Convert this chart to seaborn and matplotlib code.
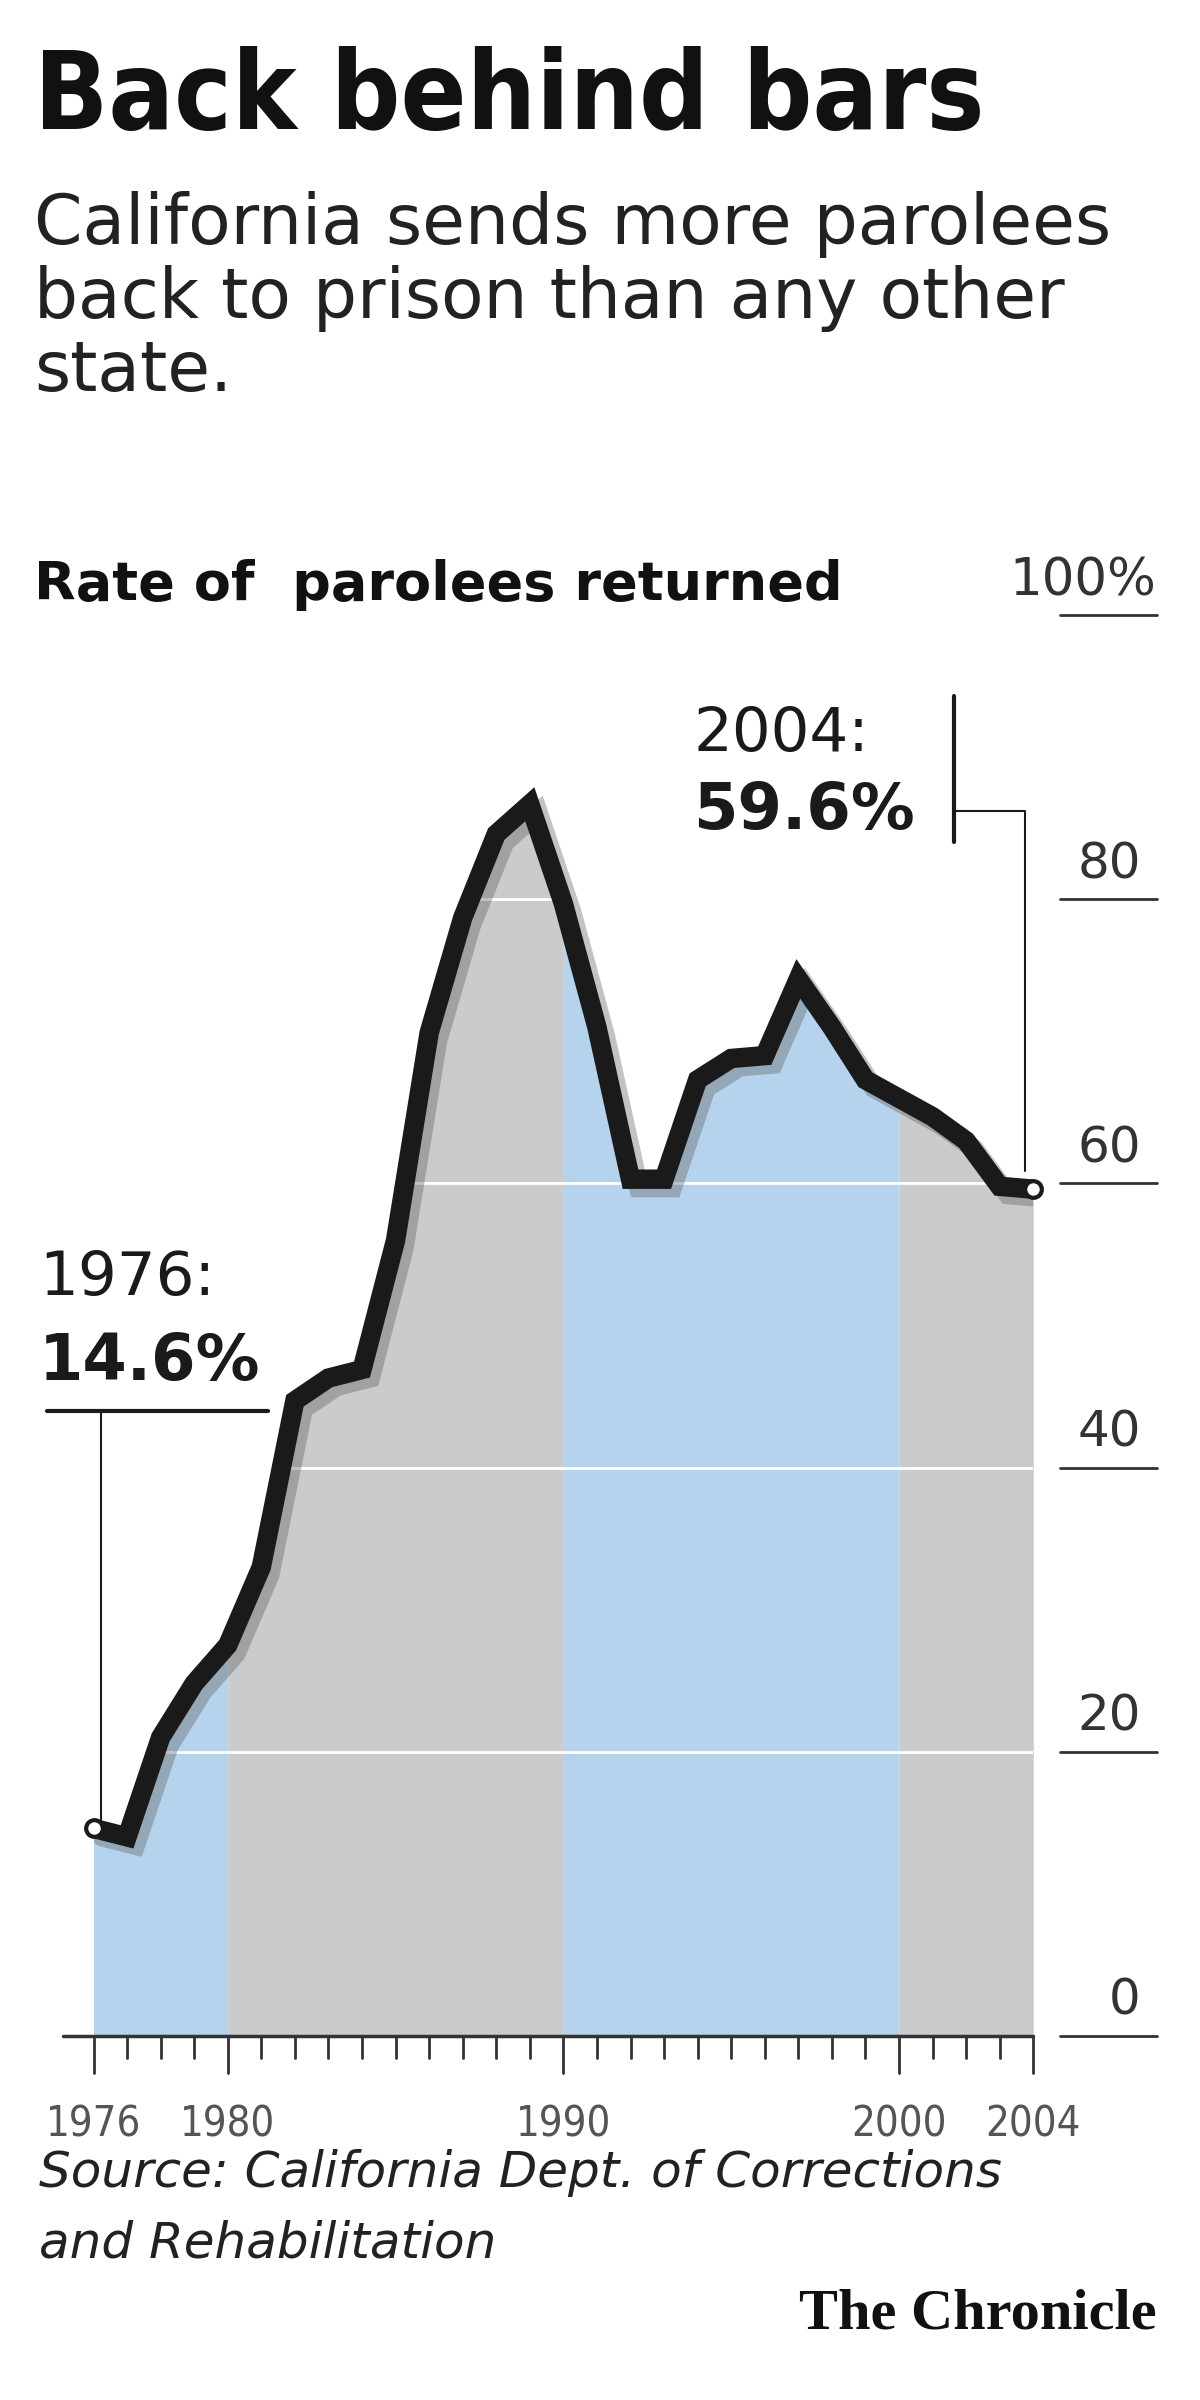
import matplotlib
matplotlib.use('Agg')
import numpy as np
import pandas as pd
import matplotlib.pyplot as plt
import matplotlib.patheffects as pe
import seaborn as sns

# data
years = list(range(1976, 2005))
rate = [14.6, 14.0, 21.0, 24.8, 27.5, 33.0, 44.7, 46.3, 46.9, 56.0,
        70.6, 78.7, 84.6, 86.7, 79.7, 71.0, 60.3, 60.3, 67.3, 68.8,
        69.0, 74.4, 71.0, 67.3, 66.0, 64.7, 63.0, 59.8, 59.6]
bands = [(1976, 1980, '#b5d3ec'), (1980, 1990, '#cacbcd'),
         (1990, 2000, '#b5d3ec'), (2000, 2004, '#cacbcd')]
ytick_vals = [0, 20, 40, 60, 80]
xtick_labels = [1976, 1980, 1990, 2000, 2004]

sns.set_style('white')
plt.rcParams['font.family'] = ['DejaVu Sans']

W, H = 770, 1568
fig = plt.figure(figsize=(12, 24), dpi=100)

def fx(x): return x / W
def fy(y): return 1 - y / H

ax = fig.add_axes([fx(60), fy(1330), fx(663) - fx(60), fy(402) - fy(1330)])
ax.set_xlim(1976, 2004)
ax.set_ylim(0, 100)
ax.axis('off')

df = pd.DataFrame({'year': years, 'rate': rate})
polys = []
for a, b, c in bands:
    sub = df[(df.year >= a) & (df.year <= b)]
    p = ax.fill_between(sub.year, 0, sub.rate, color=c, lw=0, zorder=1)
    polys.append(p)
for v in [20, 40, 60, 80]:
    for p in polys:
        ln, = ax.plot([1976, 2004], [v, v], color='white', lw=2, zorder=2)
        ln.set_clip_path(p.get_paths()[0], p.get_transform())

sns.lineplot(data=df, x='year', y='rate', ax=ax, color='#1a1a1a', lw=14,
             zorder=5, solid_joinstyle='miter',
             path_effects=[pe.SimpleLineShadow(offset=(6, -6), alpha=0.35, shadow_color='#555555'),
                           pe.Normal()])
ax.plot([1976, 2004], [rate[0], rate[-1]], 'o', ms=12, mfc='white', mec='#1a1a1a', mew=3,
        zorder=6, clip_on=False)

# baseline and ticks
ax.plot([1975.1, 2004], [0, 0], color='#333333', lw=2.5, clip_on=False, zorder=4)
for y in years:
    big = y in xtick_labels
    ax.plot([y, y], [0, -2.6 if big else -1.6], color='#333333', lw=2, clip_on=False)
for y in xtick_labels:
    ax.text(y, -4.8, str(y), ha='center', va='top', fontsize=30, color='#555555',
            family=['Liberation Sans Narrow', 'DejaVu Sans'], stretch='condensed')

# right-side y labels with underlines
for v in ytick_vals:
    ax.plot([2004.8, 2007.7], [v, v], color='#333333', lw=2, clip_on=False)
    ax.text(2007.2, v + 0.8, str(v), ha='right', va='bottom', fontsize=36, color='#333333')
ax.plot([2004.8, 2007.7], [100, 100], color='#333333', lw=2, clip_on=False)

# annotations
fig.text(fx(25), fy(835), '1976:', fontsize=44, va='center', color='#1a1a1a')
fig.text(fx(25), fy(890), '14.6%', fontsize=46, va='center', weight='bold', color='#1a1a1a')
fig.add_artist(plt.Line2D([fx(30), fx(172)], [fy(922), fy(922)], color='#1a1a1a', lw=3))
fig.add_artist(plt.Line2D([fx(65), fx(65)], [fy(922), fy(1190)], color='#1a1a1a', lw=1.5))
fig.text(fx(445), fy(480), '2004:', fontsize=44, va='center', color='#1a1a1a')
fig.text(fx(445), fy(530), '59.6%', fontsize=46, va='center', weight='bold', color='#1a1a1a')
fig.add_artist(plt.Line2D([fx(612), fx(612)], [fy(455), fy(550)], color='#1a1a1a', lw=3))
fig.add_artist(plt.Line2D([fx(612), fx(658), fx(658)], [fy(530), fy(530), fy(765)],
                          color='#1a1a1a', lw=1.5))

# titles
fig.text(fx(22), fy(65), 'Back behind bars', fontsize=78, weight='heavy', va='center',
         color='#111111', stretch='condensed')
fig.text(fx(22), fy(125), 'California sends more parolees\nback to prison than any other\nstate.',
         fontsize=50, va='top', linespacing=1.12, color='#222222')
fig.text(fx(22), fy(382), 'Rate of  parolees returned', fontsize=39, weight='bold',
         va='center', color='#111111')
fig.text(fx(742), fy(380), '100%', fontsize=37, ha='right', va='center', color='#333333')

fig.text(fx(25), fy(1420), 'Source: California Dept. of Corrections',
         fontsize=36, style='italic', va='center', color='#222222')
fig.text(fx(25), fy(1466), 'and Rehabilitation',
         fontsize=36, style='italic', va='center', color='#222222')
fig.text(fx(742), fy(1512), 'The Chronicle', fontsize=42, ha='right', va='center',
         weight='bold', family=['Liberation Serif', 'DejaVu Serif'], color='#111111')

fig.savefig('out.png', facecolor='white')
